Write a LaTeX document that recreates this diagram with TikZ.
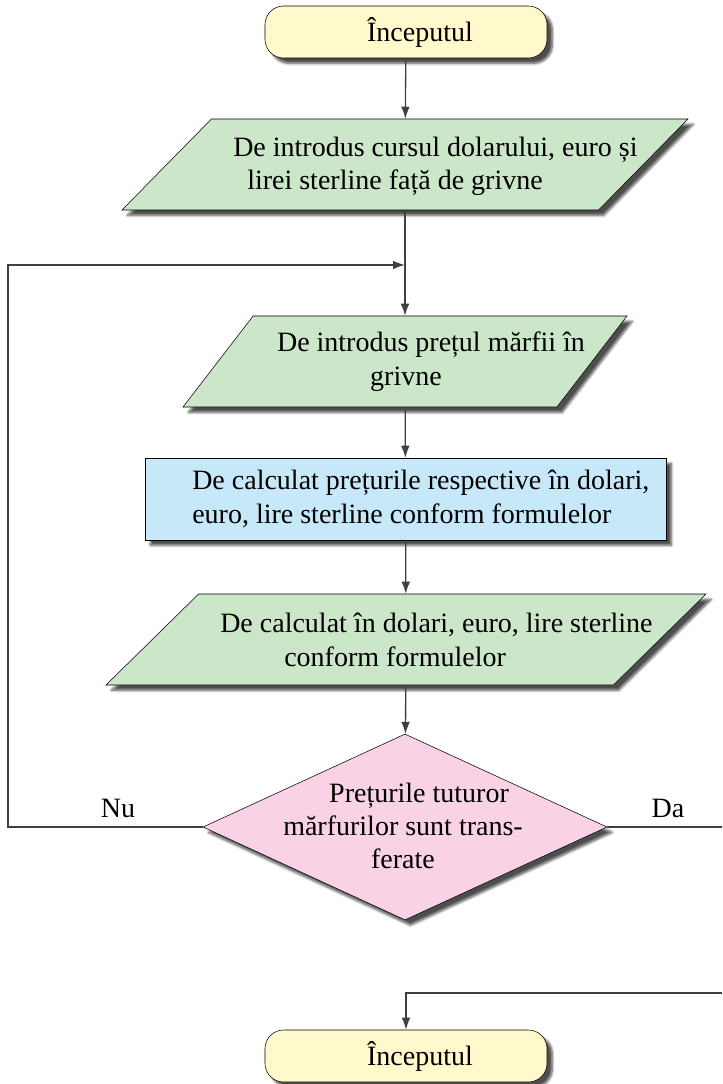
\documentclass[tikz,border=0pt]{standalone}
\usepackage{fontspec}
\setmainfont{Liberation Serif}
\usetikzlibrary{shapes.geometric,arrows.meta,shadows.blur}
\definecolor{termyellow}{RGB}{255,249,204}
\definecolor{iogreen}{RGB}{204,230,201}
\definecolor{procblue}{RGB}{199,232,249}
\definecolor{decpink}{RGB}{249,211,229}
\definecolor{linegray}{RGB}{64,64,64}
\begin{document}
\begin{tikzpicture}[x=0.75pt, y=-0.75pt, every node/.style={font=\fontsize{21}{25}\selectfont}]
  \tikzstyle{shade}=[blur shadow={shadow xshift=4pt,shadow yshift=-4pt,shadow blur steps=6,shadow opacity=70}]
  \tikzstyle{term}=[draw,shade,fill=termyellow,rounded corners=14pt,minimum width=211.5pt,minimum height=39pt,inner sep=0pt]
  \tikzstyle{io}=[draw,shade,fill=iogreen,trapezium,trapezium stretches body,text height=68.25pt,text depth=0pt,inner sep=0pt]
  \tikzstyle{proc}=[draw,shade,fill=procblue,minimum width=390.75pt,minimum height=61.5pt,inner sep=0pt]
  \tikzstyle{dec}=[draw,shade,fill=decpink,diamond,minimum width=303pt,minimum height=139.5pt,inner sep=0pt]
  \tikzstyle{txt}=[inner sep=0pt]
  \tikzstyle{line}=[draw=linegray,line width=1pt]
  \tikzstyle{arr}=[line,-{Latex[length=9pt,width=6.5pt]}]
  \useasboundingbox (0,0) rectangle (722,1084);
  % shapes
  \node[term] (start) at (406,32) {};
  \node[io,minimum width=424.5pt,trapezium left angle=45.5,trapezium right angle=134.5] (in1) at (405,164.5) {};
  \node[io,minimum width=333pt,trapezium left angle=52.4,trapezium right angle=127.6] (in2) at (405,361.5) {};
  \node[proc] (calc) at (405.5,499) {};
  \node[io,minimum width=450pt,trapezium left angle=44.5,trapezium right angle=135.5] (out) at (406,639.5) {};
  \node[dec] (cond) at (405,827) {};
  \node[term] (stop) at (406,1056) {};
  % texts
  \node[txt] (startt) at (420,32) {Începutul};
  \node[txt,align=left,anchor=west] (in1t) at (233,166) {De introdus cursul dolarului, euro și\\\hspace*{10.5pt}lirei sterline față de grivne};
  \node[txt,align=center] (in2t) at (406,361.5) {\hspace*{37.5pt}De introdus prețul mărfii în\\grivne};
  \node[txt,align=left,anchor=west] (calct) at (192,499) {De calculat prețurile respective în dolari,\\euro, lire sterline conform formulelor};
  \node[txt,align=left,anchor=west] (outt) at (220,640) {De calculat în dolari, euro, lire sterline\\\hspace*{48pt}conform formulelor};
  \node[txt,align=center] (condt) at (403,826) {\hspace*{24pt}Prețurile tuturor\\mărfurilor sunt trans-\\ferate};
  \node[txt,align=center] (stopt) at (420,1056) {Începutul};
  \node[txt] (nu) at (118,808) {Nu};
  \node[txt] (da) at (668,808) {Da};
  % connectors
  \coordinate (join) at (405,265);
  \coordinate (back) at (8,265);
  \coordinate (daend) at (722,827);
  \coordinate (retin) at (722,993);
  \draw[arr] (start) -- (in1);
  \draw[arr] (in1) -- (in2);
  \draw[arr] (in2) -- (calc);
  \draw[arr] (calc) -- (out);
  \draw[arr] (out) -- (cond);
  \draw[arr] (cond.west) -| (back) -- (join);
  \draw[line] (cond.east) -- (daend);
  \draw[arr] (retin) -| (stop.north);
\end{tikzpicture}
\end{document}
